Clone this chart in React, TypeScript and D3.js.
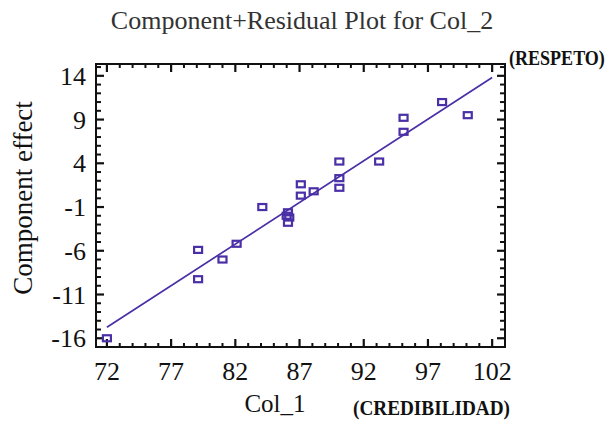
import React, { useEffect, useRef } from "react";
import * as d3 from "d3";

// Col_1 (CREDIBILIDAD) vs component effect (RESPETO)
const credibilidad = [72, 79.1, 79.1, 81.0, 82.1, 84.1, 86.0, 86.1, 86.2, 86.1, 87.1, 87.1, 88.1, 90.1, 90.1, 90.1, 93.2, 95.1, 95.1, 98.1, 100.1];
const effect = [-16, -5.9, -9.25, -7.0, -5.2, -1.0, -2.0, -1.6, -2.2, -2.8, 1.6, 0.3, 0.8, 4.2, 2.3, 1.2, 4.2, 9.2, 7.6, 11.0, 9.5];
const fitX = [72, 102];
const fitY = [-14.75, 13.8];
const xTicks = [72, 77, 82, 87, 92, 97, 102];
const yTicks = [-16, -11, -6, -1, 4, 9, 14];

const App = () => {
  const ref = useRef<SVGSVGElement>(null);

  useEffect(() => {
    const width = 613,
      height = 421;
    const left = 96,
      right = 505,
      top = 64,
      bottom = 347;
    const purple = "#4a2fa6";
    const font = "'Liberation Serif', 'Times New Roman', serif";

    const svg = d3.select(ref.current).html("").attr("width", width).attr("height", height);

    const x = d3.scaleLinear().domain([71.15, 103.0]).range([left, right]);
    const y = d3.scaleLinear().domain([-17.0, 15.35]).range([bottom, top]);

    svg
      .append("rect")
      .attr("x", left)
      .attr("y", top)
      .attr("width", right - left)
      .attr("height", bottom - top)
      .attr("fill", "none")
      .attr("stroke", "#111")
      .attr("stroke-width", 2);

    const g = svg.append("g").attr("stroke", "#111");
    const xMinor = d3.range(72, 103, 1);
    const yMinor = d3.range(-17, 16, 1);
    xMinor.forEach((v) => {
      const len = xTicks.includes(v) ? 8 : 4;
      const w = xTicks.includes(v) ? 2.2 : 2;
      g.append("line").attr("x1", x(v)).attr("x2", x(v)).attr("y1", bottom).attr("y2", bottom - len).attr("stroke-width", w);
      g.append("line").attr("x1", x(v)).attr("x2", x(v)).attr("y1", top).attr("y2", top + len).attr("stroke-width", w);
    });
    yMinor.forEach((v) => {
      const len = yTicks.includes(v) ? 8 : 5;
      const w = yTicks.includes(v) ? 2.2 : 2;
      g.append("line").attr("y1", y(v)).attr("y2", y(v)).attr("x1", left).attr("x2", left + len).attr("stroke-width", w);
      g.append("line").attr("y1", y(v)).attr("y2", y(v)).attr("x1", right).attr("x2", right - len).attr("stroke-width", w);
    });

    svg
      .selectAll("text.xt")
      .data(xTicks)
      .join("text")
      .attr("x", (d) => x(d))
      .attr("y", 380)
      .attr("text-anchor", "middle")
      .style("font-family", font)
      .style("font-size", "26px")
      .attr("fill", "#111")
      .text((d) => d);

    svg
      .selectAll("text.yt")
      .data(yTicks)
      .join("text")
      .attr("x", 86)
      .attr("y", (d) => y(d) + 9)
      .attr("text-anchor", "end")
      .style("font-family", font)
      .style("font-size", "26px")
      .attr("fill", "#111")
      .text((d) => d);

    const line = d3
      .line<number>()
      .x((d) => x(d))
      .y((_, i) => y(fitY[i]));
    svg
      .append("path")
      .attr("d", line(fitX))
      .attr("fill", "none")
      .attr("stroke", purple)
      .attr("stroke-width", 1.7);

    svg
      .selectAll("rect.pt")
      .data(credibilidad)
      .join("rect")
      .attr("x", (d) => x(d) - 4)
      .attr("y", (_, i) => y(effect[i]) - 3)
      .attr("width", 8)
      .attr("height", 6)
      .attr("fill", "none")
      .attr("stroke", purple)
      .attr("stroke-width", 2.2);

    svg
      .append("text")
      .attr("x", 302)
      .attr("y", 29)
      .attr("text-anchor", "middle")
      .style("font-family", font)
      .style("font-size", "26px")
      .attr("fill", "#333")
      .text("Component+Residual Plot for Col_2");

    svg
      .append("text")
      .attr("transform", "translate(509, 65) scale(0.82, 1)")
      .style("font-family", font)
      .style("font-size", "22px")
      .style("font-weight", "bold")
      .attr("fill", "#111")
      .text("(RESPETO)");

    svg
      .append("text")
      .attr("transform", `translate(32, 198) rotate(-90)`)
      .attr("text-anchor", "middle")
      .style("font-family", font)
      .style("font-size", "27px")
      .attr("fill", "#111")
      .text("Component effect");

    svg
      .append("text")
      .attr("x", 275)
      .attr("y", 412)
      .attr("text-anchor", "middle")
      .style("font-family", font)
      .style("font-size", "25px")
      .attr("fill", "#111")
      .text("Col_1");

    svg
      .append("text")
      .attr("x", 353)
      .attr("y", 415)
      .attr("textLength", 157)
      .attr("lengthAdjust", "spacingAndGlyphs")
      .style("font-family", font)
      .style("font-size", "22px")
      .style("font-weight", "bold")
      .attr("fill", "#111")
      .text("(CREDIBILIDAD)");
  }, []);

  return <svg ref={ref} style={{ position: "absolute", left: 0, top: 0 }}></svg>;
};

export default App;
